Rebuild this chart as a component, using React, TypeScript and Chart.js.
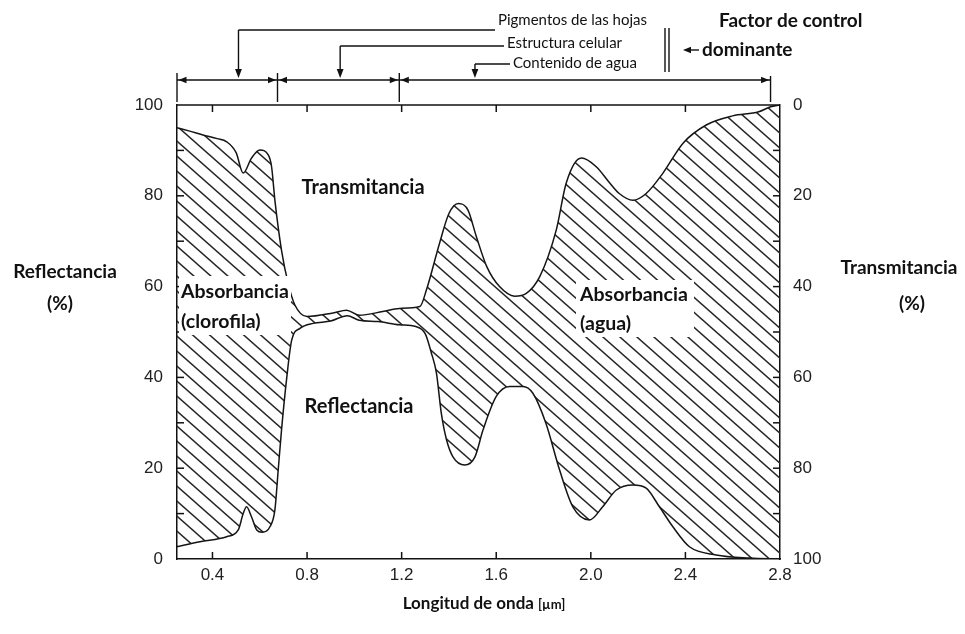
import React, { useEffect, useRef } from 'react';
import { Chart, registerables } from 'chart.js';

Chart.register(...registerables);

// Lower curve: reflectance (%), left axis
const reflWavelength = [0.25, 0.347, 0.46, 0.509, 0.53, 0.544, 0.565, 0.587, 0.61, 0.643, 0.664, 0.678, 0.692, 0.713, 0.735, 0.77, 0.826, 0.9, 0.97, 1.02, 1.1, 1.19, 1.26, 1.3, 1.325, 1.347, 1.368, 1.39, 1.417, 1.467, 1.51, 1.544, 1.6, 1.657, 1.713, 1.755, 1.81, 1.868, 1.924, 1.995, 2.05, 2.108, 2.178, 2.234, 2.29, 2.347, 2.417, 2.53, 2.67, 2.8];
const reflectance = [2.7, 3.8, 4.9, 6.4, 10, 11.5, 9.3, 6.4, 5.9, 7.1, 10.8, 19.6, 28.4, 39.4, 48.2, 50.8, 51.9, 52.4, 53.6, 52.6, 52.3, 51.6, 51.2, 49.6, 45.5, 41, 32, 26.2, 22.5, 20.7, 22.5, 28.4, 35.8, 38, 38, 36.5, 29.9, 19.6, 11.5, 8.6, 11.5, 15.2, 16.3, 15.6, 11.5, 7.1, 2.7, 0.9, 0.2, 0];

// Upper curve: transmittance (%), right axis (reversed)
const transWavelength = [0.25, 0.3, 0.36, 0.42, 0.46, 0.5, 0.53, 0.565, 0.6, 0.636, 0.65, 0.664, 0.692, 0.72, 0.748, 0.8, 0.91, 0.967, 1.02, 1.12, 1.19, 1.277, 1.305, 1.36, 1.4, 1.44, 1.48, 1.516, 1.56, 1.614, 1.678, 1.727, 1.784, 1.854, 1.896, 1.96, 2.023, 2.08, 2.12, 2.178, 2.234, 2.305, 2.39, 2.488, 2.6, 2.71, 2.76, 2.8];
const transmittance = [5, 5.7, 6.6, 7.4, 8.1, 10.5, 15, 11.7, 9.9, 11, 13.6, 21, 32, 39.3, 44, 46.6, 45.8, 45.2, 46.3, 45.5, 44.8, 44.4, 40.7, 30.5, 23.9, 21.7, 23.1, 29, 35.6, 40, 42.1, 41.5, 37.8, 27.5, 17.2, 11.7, 13.6, 17.2, 19.5, 21, 19.5, 15, 8.4, 4.4, 2.4, 1.5, 0.4, 0];

const xTicks = [0.4, 0.8, 1.2, 1.6, 2.0, 2.4, 2.8];
const minorY = [10, 20, 30, 40, 50, 60, 70, 80, 90];

// Dominant control factor regions (µm) and pointer positions
const bracketBounds = [0.25, 0.675, 1.19, 2.76];
const pointerAt = [0.51, 0.94, 1.51];
const pointerLabels = ['Pigmentos de las hojas', 'Estructura celular', 'Contenido de agua'];

const TXT = '#111';
const LBL = "'Lato', 'Open Sans', sans-serif";
const NUM = "'Liberation Sans', Arial, sans-serif";

function makePattern(): CanvasPattern | string {
  const w = 17;
  const h = 15;
  const c = document.createElement('canvas');
  c.width = w;
  c.height = h;
  const g = c.getContext('2d');
  if (!g) return '#ccc';
  g.strokeStyle = '#262626';
  g.lineWidth = 1.5;
  for (const off of [-h, 0, h]) {
    g.beginPath();
    g.moveTo(-w * 0.1, off - h * 0.1);
    g.lineTo(w * 1.1, off + h * 1.1);
    g.stroke();
  }
  return g.createPattern(c, 'repeat') || '#ccc';
}

const decor = {
  id: 'decor',
  afterDatasetsDraw(chart: any) {
    const ctx: CanvasRenderingContext2D = chart.ctx;
    const { left, right, top, bottom } = chart.chartArea;
    const xs = chart.scales.x;
    const ys = chart.scales.y;
    const y1 = chart.scales.y1;
    const line = (a: number, b: number, c: number, d: number) => {
      ctx.beginPath();
      ctx.moveTo(a, b);
      ctx.lineTo(c, d);
      ctx.stroke();
    };
    const tri = (x: number, y: number, dir: 'l' | 'r' | 'd') => {
      ctx.beginPath();
      if (dir === 'l') { ctx.moveTo(x, y); ctx.lineTo(x + 8, y - 3.2); ctx.lineTo(x + 8, y + 3.2); }
      if (dir === 'r') { ctx.moveTo(x, y); ctx.lineTo(x - 8, y - 3.2); ctx.lineTo(x - 8, y + 3.2); }
      if (dir === 'd') { ctx.moveTo(x, y); ctx.lineTo(x - 3.4, y - 9); ctx.lineTo(x + 3.4, y - 9); }
      ctx.closePath();
      ctx.fill();
    };
    ctx.save();
    ctx.strokeStyle = '#111';
    ctx.fillStyle = '#111';
    ctx.lineWidth = 1.5;
    // frame top
    line(left, top, right, top);
    // inward ticks
    xTicks.forEach((v) => {
      if (v >= 2.8) return;
      const px = xs.getPixelForValue(v);
      line(px, bottom, px, bottom - 7);
      line(px, top, px, top + 7);
    });
    minorY.forEach((v) => {
      const p = ys.getPixelForValue(v);
      line(left, p, left + 7, p);
      const q = y1.getPixelForValue(v);
      line(right, q, right - 7, q);
    });

    // bracket of dominant factors
    const by = 80;
    const bx = bracketBounds.map((v) => xs.getPixelForValue(v));
    ctx.lineWidth = 1.4;
    line(bx[0], by, bx[3], by);
    bx.forEach((x, i) => line(x, i === 3 ? 76 : 73, x, 102));
    for (let i = 0; i < 3; i++) {
      tri(bx[i] + 1.5, by, 'l');
      tri(bx[i + 1] - 1.5, by, 'r');
    }
    // pointers
    const py = [30, 46, 64];
    const tx = [498, 507, 513];
    const ty = [20, 43, 63];
    ctx.font = `15px ${LBL}`;
    ctx.textBaseline = 'middle';
    ctx.textAlign = 'left';
    pointerAt.forEach((v, i) => {
      const px = xs.getPixelForValue(v);
      line(tx[i] - 3, py[i], px, py[i]);
      line(px, py[i], px, by - 6);
      tri(px, by - 2, 'd');
      ctx.fillText(pointerLabels[i], tx[i], ty[i]);
    });
    // double bar
    line(665, 28, 665, 72);
    line(669, 28, 669, 72);
    // dominant factor
    ctx.font = `bold 19px ${LBL}`;
    ctx.fillText('Factor de control', 719, 21);
    ctx.fillText('dominante', 702, 50);
    line(699, 50, 690, 50);
    tri(683, 50, 'l');

    // plot labels
    ctx.fillStyle = TXT;
    ctx.font = `bold 20px ${LBL}`;
    ctx.textAlign = 'center';
    ctx.fillText('Transmitancia', 363, 188);
    ctx.fillText('Reflectancia', 359, 407);
    // white boxes
    ctx.fillStyle = '#fff';
    ctx.fillRect(179, 276, 112, 59);
    ctx.fillRect(576, 280, 118, 57);
    ctx.fillStyle = TXT;
    ctx.textAlign = 'left';
    ctx.font = `bold 19.5px ${LBL}`;
    ctx.fillText('Absorbancia', 181, 292);
    ctx.fillText('(clorofila)', 181, 322);
    ctx.fillText('Absorbancia', 580, 295);
    ctx.fillText('(agua)', 580, 324);

    // axis titles
    ctx.textAlign = 'center';
    ctx.font = `bold 19px ${LBL}`;
    ctx.fillText('Reflectancia', 65, 272);
    ctx.fillText('(%)', 60, 304);
    ctx.fillText('Transmitancia', 899, 268);
    ctx.fillText('(%)', 912, 304);
    // x title with smaller unit
    const main = 'Longitud de onda ';
    const unit = '[µm]';
    ctx.font = `bold 17px ${LBL}`;
    const w1 = ctx.measureText(main).width;
    ctx.font = `bold 13px ${LBL}`;
    const w2 = ctx.measureText(unit).width;
    const sx = 484 - (w1 + w2) / 2;
    ctx.textAlign = 'left';
    ctx.textBaseline = 'alphabetic';
    ctx.font = `bold 17px ${LBL}`;
    ctx.fillText(main, sx, 609);
    ctx.font = `bold 13px ${LBL}`;
    ctx.fillText(unit, sx + w1, 609);
    ctx.restore();
  },
};

export default function App() {
  const ref = useRef<HTMLCanvasElement>(null);
  useEffect(() => {
    document.body.style.margin = '0';
    const canvas = ref.current;
    if (!canvas) return;
    const pattern = makePattern();
    const lowerData = reflWavelength.map((x, i) => ({ x, y: reflectance[i] }));
    const upperData = transWavelength.map((x, i) => ({ x, y: transmittance[i] }));
    const tickFont = { family: NUM, size: 17 };
    const chart = new Chart(canvas, {
      type: 'line',
      data: {
        datasets: [
          {
            label: 'Reflectancia',
            data: lowerData,
            yAxisID: 'y',
            borderColor: '#151515',
            borderWidth: 1.5,
            pointRadius: 0,
            cubicInterpolationMode: 'monotone',
            fill: false,
          },
          {
            label: 'Transmitancia',
            data: upperData,
            yAxisID: 'y1',
            borderColor: '#151515',
            borderWidth: 1.5,
            pointRadius: 0,
            cubicInterpolationMode: 'monotone',
            backgroundColor: pattern as any,
            fill: { target: 0, above: pattern as any, below: pattern as any },
          },
        ],
      },
      options: {
        responsive: true,
        maintainAspectRatio: false,
        animation: false,
        events: [],
        layout: { padding: { top: 105, left: 0, right: 0, bottom: 0 } },
        plugins: { legend: { display: false }, tooltip: { enabled: false } },
        scales: {
          x: {
            type: 'linear',
            position: 'bottom',
            min: 0.25,
            max: 2.8,
            afterBuildTicks: (s: any) => { s.ticks = xTicks.map((v) => ({ value: v })); },
            afterFit: (s: any) => { s.height = 75; },
            grid: { display: false, drawTicks: false },
            border: { display: true, color: '#111', width: 1.5 },
            ticks: { font: tickFont, color: '#222', padding: 6, autoSkip: false, maxRotation: 0, callback: (v: any) => Number(v).toFixed(1) },
          },
          y: {
            type: 'linear',
            position: 'left',
            min: 0,
            max: 100,
            afterFit: (s: any) => { s.width = 177; },
            grid: { display: false, drawTicks: false },
            border: { display: true, color: '#111', width: 1.5 },
            ticks: { stepSize: 20, font: tickFont, color: '#222', padding: 14 },
          },
          y1: {
            type: 'linear',
            position: 'right',
            reverse: true,
            min: 0,
            max: 100,
            afterFit: (s: any) => { s.width = 185; },
            grid: { display: false, drawTicks: false },
            border: { display: true, color: '#111', width: 1.5 },
            ticks: { stepSize: 20, font: tickFont, color: '#222', padding: 13 },
          },
        },
      },
      plugins: [decor],
    } as any);
    return () => chart.destroy();
  }, []);
  return (
    <div style={{ position: 'absolute', left: 0, top: 0, width: 965, height: 634, background: '#fff' }}>
      <canvas ref={ref} />
    </div>
  );
}
